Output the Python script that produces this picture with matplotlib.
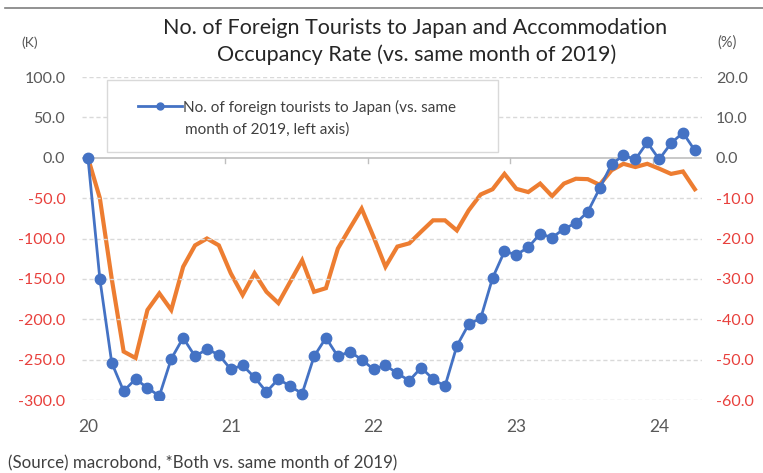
import matplotlib
matplotlib.use("Agg")
import matplotlib.pyplot as plt
from matplotlib.patches import Rectangle
from matplotlib.lines import Line2D
import numpy as np

plt.rcParams['font.family'] = ['Lato', 'DejaVu Sans']

# Monthly series, Jan 2020 - Apr 2024 (vs. same month of 2019)
tourists_k = [0, -150, -254, -289, -274, -285, -295, -249, -223, -246, -237, -244,
              -262, -257, -272, -290, -274, -283, -292, -246, -223, -246, -240, -250,
              -262, -257, -267, -276, -260, -274, -283, -233, -206, -199, -149, -116,
              -120, -111, -94, -99, -88, -81, -67, -38, -8, 3, -2, 19,
              -2, 18, 31, 9]
occupancy_pct = [0, -10, -30, -48, -49.6, -37.7, -33.6, -37.7, -27, -21.7, -20, -21.7,
                 -28.6, -34, -28.6, -33.2, -36, -30.7, -25.4, -33.2, -32.3, -22.5, -17.5, -12.6,
                 -19.6, -27, -22, -21.2, -18.3, -15.5, -15.5, -18, -13, -9.1, -7.8, -4,
                 -7.7, -8.5, -6.4, -9.5, -6.4, -5.2, -5.3, -6.7, -3.1, -1.5, -2.3, -1.5,
                 -2.7, -4, -3.4, -7.8]
year_labels = ['20', '21', '22', '23', '24']
left_ticks = [-300, -250, -200, -150, -100, -50, 0, 50, 100]
right_ticks = [-60, -50, -40, -30, -20, -10, 0, 10, 20]

BLUE = '#4472C4'
ORANGE = '#ED7D31'
GREY_TXT = '#595959'
RED_TXT = '#E8403C'

months = np.arange(len(tourists_k))

fig = plt.figure(figsize=(7.63, 4.73), dpi=100)
W, H = 763, 473
ax = fig.add_axes([82 / W, 1 - 400 / H, (702 - 82) / W, (400 - 77) / H])
ax2 = ax.twinx()

# occupancy rate (right axis)
ax2.plot(months, occupancy_pct, color=ORANGE, lw=3, solid_joinstyle='miter', zorder=2)
ax2.set_ylim(-60, 20)
ax2.set_yticks(right_ticks)
ax2.set_yticklabels([f'{v:.1f}' for v in right_ticks])

# foreign tourists (left axis), drawn above the orange line
ax.set_zorder(ax2.get_zorder() + 1)
ax.patch.set_visible(False)
ax.set_ylim(-300, 100)
ax.set_yticks(left_ticks)
ax.set_yticklabels([f'{v:.1f}' for v in left_ticks])
for t in left_ticks:
    if t != 0:
        ax.axhline(t, color='#d9d9d9', lw=1, ls=(0, (3, 2)), zorder=0)
ax.axhline(0, color='#bfbfbf', lw=1.2, zorder=1)
ax.plot(months, tourists_k, color=BLUE, lw=2, marker='o', ms=7.5,
        markerfacecolor=BLUE, markeredgecolor=BLUE, zorder=3,
        label='No. of foreign tourists to Japan (vs. same')

# x axis: year labels at January, small ticks on the zero line between years
ax.set_xlim(-0.5, 51.6)
ax.set_xticks(np.arange(0, len(tourists_k), 12))
ax.set_xticklabels(year_labels)
for b in np.arange(11.5, len(tourists_k), 12):
    ax.plot([b, b], [0, -7], color='#bfbfbf', lw=1, zorder=1)

for a in (ax, ax2):
    for s in a.spines.values():
        s.set_visible(False)
    a.tick_params(length=0)

ax.tick_params(axis='x', labelsize=12.5, labelcolor=GREY_TXT, pad=14)
ax.tick_params(axis='y', labelsize=11.5, pad=12)
ax2.tick_params(axis='y', labelsize=11.5, pad=10)
for lbl, v in zip(ax.get_yticklabels(), left_ticks):
    lbl.set_color(RED_TXT if v < 0 else GREY_TXT)
for lbl, v in zip(ax2.get_yticklabels(), right_ticks):
    lbl.set_color(RED_TXT if v < 0 else GREY_TXT)

# legend box
ax.add_patch(Rectangle(((107 - 82) / 620, (400 - 152) / 323), (498 - 107) / 620, (152 - 80) / 323,
                       transform=ax.transAxes, facecolor='white', edgecolor='#d9d9d9',
                       lw=1, zorder=4))
leg = ax.legend(loc='center left', bbox_to_anchor=((138 - 82) / 620, (400 - 107) / 323),
                frameon=False, fontsize=11, handlelength=2.9, handletextpad=0.05,
                borderpad=0, borderaxespad=0, labelcolor='#404040')
leg.set_zorder(5)
for h in leg.legend_handles:
    h.set_markersize(5)
    h.set_linewidth(2)
ax.text((185 - 82) / 620, (400 - 130) / 323, 'month of 2019, left axis)',
        transform=ax.transAxes, ha='left', va='center', fontsize=11,
        color='#404040', zorder=6)

# titles and units
fig.text(415 / W, 1 - 28 / H, 'No. of Foreign Tourists to Japan and Accommodation',
         ha='center', va='center', fontsize=15.5, color='#262626')
fig.text(417 / W, 1 - 55 / H, 'Occupancy Rate (vs. same month of 2019)',
         ha='center', va='center', fontsize=15.5, color='#262626')
fig.text(30 / W, 1 - 43 / H, '(K)', ha='center', va='center', fontsize=10, color=GREY_TXT)
fig.text(727 / W, 1 - 43 / H, '(%)', ha='center', va='center', fontsize=10.5, color=GREY_TXT)
fig.text(8 / W, 1 - 463 / H, '(Source) macrobond, *Both vs. same month of 2019)',
         ha='left', va='center', fontsize=12.2, color='#404040')
fig.add_artist(Line2D([5 / W, 1], [1 - 8 / H, 1 - 8 / H], transform=fig.transFigure,
                      color='#7f7f7f', lw=1.2))

fig.savefig('out.png', dpi=100)
